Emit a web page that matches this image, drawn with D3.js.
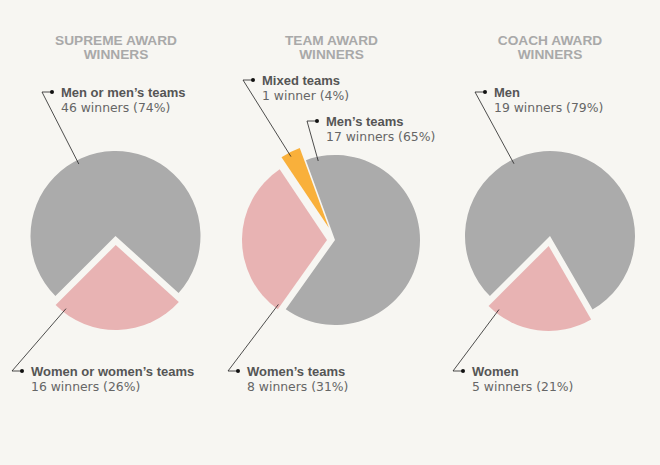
<!DOCTYPE html>
<html>
<head>
<meta charset="utf-8">
<script src="https://cdn.jsdelivr.net/npm/d3@7"></script>
<style>
  html, body { margin: 0; padding: 0; background: #f7f6f2; }
  svg { display: block; }
</style>
</head>
<body>
<div id="chart"></div>
<script>
// Award winners by gender - three pies

// Titles (two lines each)
const titles = [
    ['SUPREME AWARD', 'WINNERS'],
    ['TEAM AWARD', 'WINNERS'],
    ['COACH AWARD', 'WINNERS']
];

// Series
const supremeLabels = ['Men or men’s teams', 'Women or women’s teams'];
const supremeValues = [46, 16];

const teamLabels = ['Men’s teams', 'Women’s teams', 'Mixed teams'];
const teamValues = [17, 8, 1];

const coachLabels = ['Men', 'Women'];
const coachValues = [19, 5];

const kinds = ['men', 'women', 'mixed'];

// colours by kind
const colorScale = d3.scaleOrdinal()
    .domain(kinds)
    .range(['#ababab', '#e8b3b3', '#f9b03b']);

const width = 660, height = 465;
const radius = 85;

// layout for each pie: centre, start angle, explode distance per slice,
// label position (text x, baseline) and anchor angle inside the slice
const layout = [
    {
        cx: 115.5, cy: 236, titleX: 116, start: -135,
        explode: [0, 9],
        labels: [
            { x: 61, y: 97, anchor: -27 },
            { x: 31, y: 376, anchor: 218 }
        ]
    },
    {
        cx: 335, cy: 240, titleX: 331.5, start: -20,
        explode: [0, 8, 13.6],
        labels: [
            { x: 326, y: 126, anchor: -12 },
            { x: 247, y: 376, anchor: 217 },
            { x: 262, y: 85, anchor: -28 }
        ]
    },
    {
        cx: 550, cy: 236, titleX: 550, start: -135,
        explode: [0, 10],
        labels: [
            { x: 494, y: 97, anchor: -26.5 },
            { x: 472, y: 376, anchor: 218 }
        ]
    }
];

const series = [
    { labels: supremeLabels, values: supremeValues },
    { labels: teamLabels, values: teamValues },
    { labels: coachLabels, values: coachValues }
];

const svg = d3.select('#chart').append('svg')
    .attr('width', width)
    .attr('height', height);

const arc = d3.arc().innerRadius(0).outerRadius(radius);
const rad = Math.PI / 180;

series.forEach((s, ci) => {
    const lay = layout[ci];
    const total = d3.sum(s.values);

    // title
    const title = svg.append('text')
        .attr('x', lay.titleX)
        .attr('y', 45)
        .attr('text-anchor', 'middle')
        .style('font-family', '"Liberation Sans", Arial, sans-serif')
        .style('font-weight', 'bold')
        .style('font-size', '13.7px')
        .style('fill', '#a9a9a9');
    titles[ci].forEach((line, li) => {
        title.append('tspan')
            .attr('x', lay.titleX)
            .attr('dy', li === 0 ? 0 : 14)
            .text(line);
    });

    const pie = d3.pie()
        .sort(null)
        .startAngle(lay.start * rad)
        .endAngle((lay.start + 360) * rad);

    const arcs = pie(s.values);

    arcs.forEach((a, i) => {
        const mid = (a.startAngle + a.endAngle) / 2;
        const d = lay.explode[i];
        const ox = lay.cx + Math.sin(mid) * d;
        const oy = lay.cy - Math.cos(mid) * d;

        svg.append('path')
            .attr('transform', `translate(${ox},${oy})`)
            .attr('d', arc(a))
            .style('fill', colorScale(kinds[i]));

        // leader line
        const lab = lay.labels[i];
        const ar = radius * 0.95;
        const ax = ox + Math.sin(lab.anchor * rad) * ar;
        const ay = oy - Math.cos(lab.anchor * rad) * ar;
        const ly = lab.y - 5;

        svg.append('polyline')
            .attr('points', [[ax, ay], [lab.x - 19, ly], [lab.x - 9, ly]].map(p => p.join(',')).join(' '))
            .style('fill', 'none')
            .style('stroke', '#222')
            .style('stroke-width', 0.8);

        svg.append('circle')
            .attr('cx', lab.x - 9)
            .attr('cy', ly)
            .attr('r', 2)
            .style('fill', '#111');

        // label text
        svg.append('text')
            .attr('x', lab.x)
            .attr('y', lab.y)
            .style('font-family', '"Liberation Sans", Arial, sans-serif')
            .style('font-weight', 'bold')
            .style('font-size', '13px')
            .style('fill', '#555')
            .text(s.labels[i]);

        const v = s.values[i];
        const pct = Math.round(v / total * 100);
        svg.append('text')
            .attr('x', lab.x)
            .attr('y', lab.y + 14.5)
            .style('font-family', '"DejaVu Sans", Verdana, sans-serif')
            .style('font-size', '12.4px')
            .style('fill', '#666')
            .text(`${v} ${v === 1 ? 'winner' : 'winners'} (${pct}%)`);
    });
});
</script>
</body>
</html>
